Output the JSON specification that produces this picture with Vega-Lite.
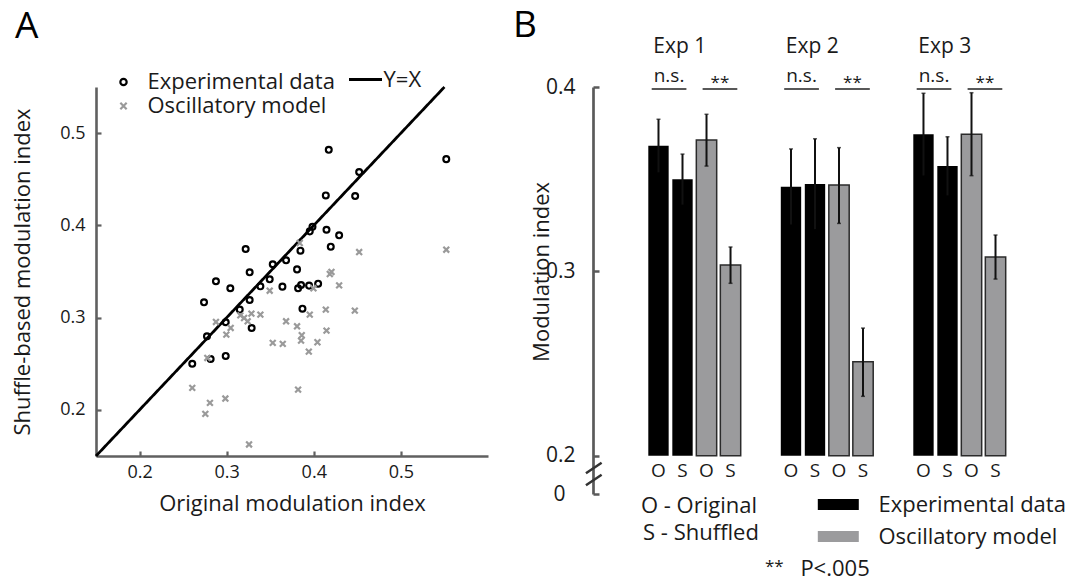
{
  "$schema": "https://vega.github.io/schema/vega-lite/v6.json",
  "background": "white",
  "padding": {"left": 11, "top": 6, "right": 0, "bottom": 0},
  "spacing": 25,
  "resolve": {"scale": {"fill": "independent", "shape": "independent", "stroke": "independent", "strokeDash": "independent"}},
  "config": {
    "font": "Open Sans",
    "view": {"stroke": null},
    "axis": {"grid": false, "labelFont": "Open Sans", "titleFont": "Open Sans", "titleFontWeight": "normal", "labelColor": "#1a1a1a", "titleColor": "#1a1a1a"},
    "legend": {"labelFont": "Open Sans", "labelColor": "#1a1a1a", "labelLimit": 0},
    "text": {"font": "Open Sans", "color": "#1a1a1a"}
  },
  "datasets": {
    "scatter": [
      {"series": "Experimental data", "original": 0.2605, "shuffled": 0.250},
      {"series": "Experimental data", "original": 0.274, "shuffled": 0.3166},
      {"series": "Experimental data", "original": 0.2774, "shuffled": 0.2798},
      {"series": "Experimental data", "original": 0.2816, "shuffled": 0.2552},
      {"series": "Experimental data", "original": 0.2877, "shuffled": 0.3394},
      {"series": "Experimental data", "original": 0.2989, "shuffled": 0.295},
      {"series": "Experimental data", "original": 0.2989, "shuffled": 0.2585},
      {"series": "Experimental data", "original": 0.3042, "shuffled": 0.3318},
      {"series": "Experimental data", "original": 0.315, "shuffled": 0.3087},
      {"series": "Experimental data", "original": 0.3218, "shuffled": 0.3744},
      {"series": "Experimental data", "original": 0.3264, "shuffled": 0.3491},
      {"series": "Experimental data", "original": 0.3264, "shuffled": 0.3191},
      {"series": "Experimental data", "original": 0.3287, "shuffled": 0.2888},
      {"series": "Experimental data", "original": 0.3387, "shuffled": 0.3339},
      {"series": "Experimental data", "original": 0.3494, "shuffled": 0.3415},
      {"series": "Experimental data", "original": 0.3529, "shuffled": 0.3578},
      {"series": "Experimental data", "original": 0.364, "shuffled": 0.3336},
      {"series": "Experimental data", "original": 0.3682, "shuffled": 0.3621},
      {"series": "Experimental data", "original": 0.3808, "shuffled": 0.3523},
      {"series": "Experimental data", "original": 0.382, "shuffled": 0.3318},
      {"series": "Experimental data", "original": 0.3847, "shuffled": 0.3726},
      {"series": "Experimental data", "original": 0.3854, "shuffled": 0.3354},
      {"series": "Experimental data", "original": 0.387, "shuffled": 0.3097},
      {"series": "Experimental data", "original": 0.3946, "shuffled": 0.3347},
      {"series": "Experimental data", "original": 0.3954, "shuffled": 0.3935},
      {"series": "Experimental data", "original": 0.3985, "shuffled": 0.3986},
      {"series": "Experimental data", "original": 0.405, "shuffled": 0.3368},
      {"series": "Experimental data", "original": 0.4146, "shuffled": 0.3953},
      {"series": "Experimental data", "original": 0.4172, "shuffled": 0.4819},
      {"series": "Experimental data", "original": 0.4138, "shuffled": 0.4325},
      {"series": "Experimental data", "original": 0.4195, "shuffled": 0.3769},
      {"series": "Experimental data", "original": 0.4291, "shuffled": 0.3892},
      {"series": "Experimental data", "original": 0.4475, "shuffled": 0.4318},
      {"series": "Experimental data", "original": 0.4521, "shuffled": 0.4578},
      {"series": "Experimental data", "original": 0.5521, "shuffled": 0.4718},
      {"series": "Oscillatory model", "original": 0.3839, "shuffled": 0.3809},
      {"series": "Oscillatory model", "original": 0.3494, "shuffled": 0.3292},
      {"series": "Oscillatory model", "original": 0.3996, "shuffled": 0.3318},
      {"series": "Oscillatory model", "original": 0.4184, "shuffled": 0.3473},
      {"series": "Oscillatory model", "original": 0.4203, "shuffled": 0.3495},
      {"series": "Oscillatory model", "original": 0.4291, "shuffled": 0.335},
      {"series": "Oscillatory model", "original": 0.4521, "shuffled": 0.3711},
      {"series": "Oscillatory model", "original": 0.5521, "shuffled": 0.3736},
      {"series": "Oscillatory model", "original": 0.4138, "shuffled": 0.3087},
      {"series": "Oscillatory model", "original": 0.4471, "shuffled": 0.3076},
      {"series": "Oscillatory model", "original": 0.3954, "shuffled": 0.3032},
      {"series": "Oscillatory model", "original": 0.4146, "shuffled": 0.2859},
      {"series": "Oscillatory model", "original": 0.4042, "shuffled": 0.2733},
      {"series": "Oscillatory model", "original": 0.3943, "shuffled": 0.2632},
      {"series": "Oscillatory model", "original": 0.3862, "shuffled": 0.2809},
      {"series": "Oscillatory model", "original": 0.3854, "shuffled": 0.2751},
      {"series": "Oscillatory model", "original": 0.3808, "shuffled": 0.2906},
      {"series": "Oscillatory model", "original": 0.3682, "shuffled": 0.296},
      {"series": "Oscillatory model", "original": 0.3644, "shuffled": 0.2715},
      {"series": "Oscillatory model", "original": 0.3529, "shuffled": 0.2726},
      {"series": "Oscillatory model", "original": 0.3387, "shuffled": 0.3032},
      {"series": "Oscillatory model", "original": 0.3284, "shuffled": 0.3043},
      {"series": "Oscillatory model", "original": 0.3157, "shuffled": 0.3025},
      {"series": "Oscillatory model", "original": 0.32, "shuffled": 0.2996},
      {"series": "Oscillatory model", "original": 0.3241, "shuffled": 0.296},
      {"series": "Oscillatory model", "original": 0.3046, "shuffled": 0.2888},
      {"series": "Oscillatory model", "original": 0.2996, "shuffled": 0.2816},
      {"series": "Oscillatory model", "original": 0.2877, "shuffled": 0.2953},
      {"series": "Oscillatory model", "original": 0.2778, "shuffled": 0.2563},
      {"series": "Oscillatory model", "original": 0.2605, "shuffled": 0.2238},
      {"series": "Oscillatory model", "original": 0.2808, "shuffled": 0.2076},
      {"series": "Oscillatory model", "original": 0.2985, "shuffled": 0.2123},
      {"series": "Oscillatory model", "original": 0.2755, "shuffled": 0.1957},
      {"series": "Oscillatory model", "original": 0.382, "shuffled": 0.222},
      {"series": "Oscillatory model", "original": 0.3257, "shuffled": 0.1625}
    ],
    "bars": [
      {"exp": "Exp 1", "series": "Experimental data", "cond": "O", "mean": 0.3681, "lo": 0.3537, "hi": 0.3825},
      {"exp": "Exp 1", "series": "Experimental data", "cond": "S", "mean": 0.3499, "lo": 0.3362, "hi": 0.3636},
      {"exp": "Exp 1", "series": "Oscillatory model", "cond": "O", "mean": 0.3712, "lo": 0.3571, "hi": 0.3852},
      {"exp": "Exp 1", "series": "Oscillatory model", "cond": "S", "mean": 0.3034, "lo": 0.2935, "hi": 0.3132},
      {"exp": "Exp 2", "series": "Experimental data", "cond": "O", "mean": 0.3459, "lo": 0.3254, "hi": 0.3664},
      {"exp": "Exp 2", "series": "Experimental data", "cond": "S", "mean": 0.3474, "lo": 0.3229, "hi": 0.3719},
      {"exp": "Exp 2", "series": "Oscillatory model", "cond": "O", "mean": 0.3468, "lo": 0.326, "hi": 0.3671},
      {"exp": "Exp 2", "series": "Oscillatory model", "cond": "S", "mean": 0.251, "lo": 0.2322, "hi": 0.2692},
      {"exp": "Exp 3", "series": "Experimental data", "cond": "O", "mean": 0.3743, "lo": 0.352, "hi": 0.3966},
      {"exp": "Exp 3", "series": "Experimental data", "cond": "S", "mean": 0.3571, "lo": 0.3412, "hi": 0.373},
      {"exp": "Exp 3", "series": "Oscillatory model", "cond": "O", "mean": 0.3743, "lo": 0.3519, "hi": 0.3969},
      {"exp": "Exp 3", "series": "Oscillatory model", "cond": "S", "mean": 0.3078, "lo": 0.2958, "hi": 0.3197}
    ],
    "sig": [
      {"exp": "Exp 1", "series": "Experimental data", "sig": "n.s."},
      {"exp": "Exp 1", "series": "Oscillatory model", "sig": "**"},
      {"exp": "Exp 2", "series": "Experimental data", "sig": "n.s."},
      {"exp": "Exp 2", "series": "Oscillatory model", "sig": "**"},
      {"exp": "Exp 3", "series": "Experimental data", "sig": "n.s."},
      {"exp": "Exp 3", "series": "Oscillatory model", "sig": "**"}
    ]
  },
  "hconcat": [
    {
      "width": 392,
      "height": 369,
      "layer": [
        {
          "data": {"values": [{}]},
          "mark": {"type": "rule", "color": "black", "strokeWidth": 2.8},
          "encoding": {
            "x": {"datum": 0.15, "type": "quantitative"},
            "y": {"datum": 0.15, "type": "quantitative"},
            "x2": {"datum": 0.55},
            "y2": {"datum": 0.55},
            "strokeDash": {
              "datum": "Y=X", "type": "nominal",
              "scale": {"range": [[1, 0]]},
              "legend": {"title": null, "orient": "none", "legendX": 251.5, "legendY": -25.5, "symbolType": "stroke", "symbolSize": 1089, "symbolStrokeColor": "black", "symbolStrokeWidth": 2.8, "labelOffset": 0, "labelFontSize": 22, "padding": 0}
            }
          }
        },
        {
          "data": {"name": "scatter"},
          "mark": {"type": "point", "filled": false, "size": 34, "strokeWidth": 2.2, "opacity": 1},
          "encoding": {
            "x": {
              "field": "original", "type": "quantitative",
              "scale": {"domain": [0.15, 0.6], "nice": false, "zero": false},
              "axis": {"title": "Original modulation index", "values": [0.2, 0.3, 0.4, 0.5], "format": ".1f", "domainColor": "#606060", "domainWidth": 2.6, "tickColor": "#606060", "tickWidth": 2.2, "tickSize": -5, "labelFontSize": 18, "labelPadding": 12, "titleFontSize": 22, "titlePadding": 12}
            },
            "y": {
              "field": "shuffled", "type": "quantitative",
              "scale": {"domain": [0.15, 0.55], "nice": false, "zero": false},
              "axis": {"title": "Shuffle-based modulation index", "values": [0.2, 0.3, 0.4, 0.5], "format": ".1f", "domainColor": "#606060", "domainWidth": 2.6, "tickColor": "#606060", "tickWidth": 2.2, "tickSize": -5, "labelFontSize": 18, "labelPadding": 16, "titleFontSize": 22, "titlePadding": 25}
            },
            "shape": {
              "field": "series", "type": "nominal",
              "scale": {"domain": ["Experimental data", "Oscillatory model"], "range": ["circle", "M-1,-1L1,1M-1,1L1,-1"]},
              "legend": {"title": null, "orient": "none", "legendX": 16.5, "legendY": -16, "labelFontSize": 22, "labelOffset": 13, "rowPadding": 2, "symbolStrokeWidth": 2.2, "symbolSize": 40, "padding": 0}
            },
            "stroke": {
              "field": "series", "type": "nominal",
              "scale": {"domain": ["Experimental data", "Oscillatory model"], "range": ["#000000", "#9a9a9a"]},
              "legend": {"title": null, "orient": "none", "legendX": 16.5, "legendY": -16, "labelFontSize": 22, "labelOffset": 13, "rowPadding": 2, "symbolStrokeWidth": 2.2, "symbolSize": 40, "padding": 0}
            }
          }
        },
        {
          "data": {"values": [{}]},
          "mark": {"type": "text", "text": "A", "fontSize": 37, "align": "left", "baseline": "alphabetic", "color": "#000"},
          "encoding": {
            "x": {"datum": 0.0571, "type": "quantitative"},
            "y": {"datum": 0.603, "type": "quantitative"}
          }
        }
      ]
    },
    {
      "width": 468,
      "height": 407,
      "resolve": {"scale": {"xOffset": "independent"}},
      "layer": [
        {
          "data": {"name": "bars"},
          "transform": [{"filter": "datum.series === 'Experimental data'"}],
          "mark": {"type": "bar"},
          "encoding": {
            "x": {"field": "exp", "type": "nominal", "scale": {"domain": ["Exp 1", "Exp 2", "Exp 3"], "paddingInner": 0.3026, "paddingOuter": 0.4174}, "axis": null},
            "xOffset": {"field": "cond", "type": "nominal", "scale": {"type": "band", "domain": ["O", "S"], "paddingInner": 0.1518, "paddingOuter": 1.1384, "align": 0}},
            "y": {
              "field": "mean", "type": "quantitative",
              "scale": {"domain": [0.1792, 0.4], "nice": false, "zero": false},
              "axis": {"title": "Modulation index", "titleY": 184.4, "values": [0.1792, 0.2, 0.3, 0.4], "labelExpr": "datum.value < 0.19 ? '0' : format(datum.value, '.1f')", "domainColor": "#5a5a5a", "domainWidth": 2.7, "tickColor": "#5a5a5a", "tickWidth": 2.5, "tickSize": -6, "labelFontSize": 21, "labelPadding": {"condition": {"test": "datum.value < 0.19", "value": 34}, "value": 24}, "titleFontSize": 22, "titlePadding": -8}
            },
            "y2": {"datum": 0.2},
            "fill": {
              "field": "series", "type": "nominal",
              "scale": {"domain": ["Experimental data", "Oscillatory model"], "range": ["#000000", "#9b9b9d"]},
              "legend": {"title": null, "orient": "none", "legendX": 224.8, "legendY": 397, "symbolType": "M-1,-0.27L1,-0.27L1,0.27L-1,0.27Z", "symbolSize": 1681, "symbolStrokeWidth": 0, "labelFontSize": 22, "labelOffset": 19.7, "rowPadding": -21, "padding": 0}
            }
          }
        },
        {
          "data": {"name": "bars"},
          "transform": [{"filter": "datum.series === 'Oscillatory model'"}],
          "mark": {"type": "bar", "stroke": "#2b2b2b", "strokeWidth": 1.5},
          "encoding": {
            "x": {"field": "exp", "type": "nominal", "axis": null},
            "xOffset": {"field": "cond", "type": "nominal", "scale": {"type": "band", "domain": ["O", "S"], "paddingInner": 0.1518, "paddingOuter": 1.1384, "align": 1}},
            "y": {"field": "mean", "type": "quantitative"},
            "y2": {"datum": 0.2},
            "fill": {
              "field": "series", "type": "nominal",
              "legend": {"title": null, "orient": "none", "legendX": 224.8, "legendY": 397, "symbolType": "M-1,-0.27L1,-0.27L1,0.27L-1,0.27Z", "symbolSize": 1681, "symbolStrokeWidth": 0, "labelFontSize": 22, "labelOffset": 19.7, "rowPadding": -21, "padding": 0}
            }
          }
        },
        {
          "data": {"name": "bars"},
          "transform": [{"filter": "datum.series === 'Experimental data'"}],
          "mark": {"type": "rule", "color": "#111", "strokeWidth": 2},
          "encoding": {
            "x": {"field": "exp", "type": "nominal", "axis": null},
            "xOffset": {"field": "cond", "type": "nominal", "scale": {"type": "band", "domain": ["O", "S"], "paddingInner": 0.1518, "paddingOuter": 1.1384, "align": 0}},
            "y": {"field": "lo", "type": "quantitative"},
            "y2": {"field": "hi"}
          }
        },
        {
          "data": {"name": "bars"},
          "transform": [{"filter": "datum.series === 'Oscillatory model'"}],
          "mark": {"type": "rule", "color": "#111", "strokeWidth": 2},
          "encoding": {
            "x": {"field": "exp", "type": "nominal", "axis": null},
            "xOffset": {"field": "cond", "type": "nominal", "scale": {"type": "band", "domain": ["O", "S"], "paddingInner": 0.1518, "paddingOuter": 1.1384, "align": 1}},
            "y": {"field": "lo", "type": "quantitative"},
            "y2": {"field": "hi"}
          }
        },
        {
          "data": {"name": "bars"},
          "transform": [{"filter": "datum.series === 'Experimental data'"}],
          "mark": {"type": "tick", "orient": "horizontal", "size": 4, "thickness": 1.5, "color": "#111"},
          "encoding": {
            "x": {"field": "exp", "type": "nominal", "axis": null},
            "xOffset": {"field": "cond", "type": "nominal", "scale": {"type": "band", "domain": ["O", "S"], "paddingInner": 0.1518, "paddingOuter": 1.1384, "align": 0}},
            "y": {"field": "hi", "type": "quantitative"}
          }
        },
        {
          "data": {"name": "bars"},
          "transform": [{"filter": "datum.series === 'Oscillatory model'"}],
          "mark": {"type": "tick", "orient": "horizontal", "size": 4, "thickness": 1.5, "color": "#111"},
          "encoding": {
            "x": {"field": "exp", "type": "nominal", "axis": null},
            "xOffset": {"field": "cond", "type": "nominal", "scale": {"type": "band", "domain": ["O", "S"], "paddingInner": 0.1518, "paddingOuter": 1.1384, "align": 1}},
            "y": {"field": "hi", "type": "quantitative"}
          }
        },
        {
          "data": {"name": "bars"},
          "transform": [{"filter": "datum.series === 'Oscillatory model'"}],
          "mark": {"type": "tick", "orient": "horizontal", "size": 4, "thickness": 1.5, "color": "#111"},
          "encoding": {
            "x": {"field": "exp", "type": "nominal", "axis": null},
            "xOffset": {"field": "cond", "type": "nominal", "scale": {"type": "band", "domain": ["O", "S"], "paddingInner": 0.1518, "paddingOuter": 1.1384, "align": 1}},
            "y": {"field": "lo", "type": "quantitative"}
          }
        },
        {
          "data": {"name": "bars"},
          "transform": [{"filter": "datum.series === 'Experimental data'"}],
          "mark": {"type": "text", "fontSize": 19, "dy": 21, "baseline": "alphabetic", "align": "center"},
          "encoding": {
            "x": {"field": "exp", "type": "nominal", "axis": null},
            "xOffset": {"field": "cond", "type": "nominal", "scale": {"type": "band", "domain": ["O", "S"], "paddingInner": 0.1518, "paddingOuter": 1.1384, "align": 0}},
            "y": {"datum": 0.2, "type": "quantitative"},
            "text": {"field": "cond"}
          }
        },
        {
          "data": {"name": "bars"},
          "transform": [{"filter": "datum.series === 'Oscillatory model'"}],
          "mark": {"type": "text", "fontSize": 19, "dy": 21, "baseline": "alphabetic", "align": "center"},
          "encoding": {
            "x": {"field": "exp", "type": "nominal", "axis": null},
            "xOffset": {"field": "cond", "type": "nominal", "scale": {"type": "band", "domain": ["O", "S"], "paddingInner": 0.1518, "paddingOuter": 1.1384, "align": 1}},
            "y": {"datum": 0.2, "type": "quantitative"},
            "text": {"field": "cond"}
          }
        },
        {
          "data": {"name": "sig"},
          "mark": {"type": "tick", "orient": "horizontal", "size": 34.7, "thickness": 2, "color": "#111"},
          "encoding": {
            "x": {"field": "exp", "type": "nominal", "axis": null},
            "xOffset": {"field": "series", "type": "nominal", "scale": {"type": "band", "domain": ["Experimental data", "Oscillatory model"], "paddingInner": 0.185, "paddingOuter": 0}},
            "y": {"datum": 0.3989, "type": "quantitative"}
          }
        },
        {
          "data": {"name": "sig"},
          "transform": [{"filter": "datum.sig === 'n.s.'"}],
          "mark": {"type": "text", "fontSize": 19, "baseline": "alphabetic", "align": "center"},
          "encoding": {
            "x": {"field": "exp", "type": "nominal", "axis": null},
            "xOffset": {"field": "series", "type": "nominal", "scale": {"type": "band", "domain": ["Experimental data", "Oscillatory model"], "paddingInner": 0.185, "paddingOuter": 0}},
            "y": {"datum": 0.4029, "type": "quantitative"},
            "text": {"field": "sig"}
          }
        },
        {
          "data": {"name": "sig"},
          "transform": [{"filter": "datum.sig === '**'"}],
          "mark": {"type": "text", "fontSize": 17, "baseline": "alphabetic", "align": "center"},
          "encoding": {
            "x": {"field": "exp", "type": "nominal", "axis": null},
            "xOffset": {"field": "series", "type": "nominal", "scale": {"type": "band", "domain": ["Experimental data", "Oscillatory model"], "paddingInner": 0.185, "paddingOuter": 0}},
            "y": {"datum": 0.3995, "type": "quantitative"},
            "text": {"field": "sig"}
          }
        },
        {
          "data": {"name": "bars"},
          "transform": [{"filter": "datum.series === 'Experimental data' && datum.cond === 'O'"}],
          "mark": {"type": "text", "fontSize": 21, "align": "left", "baseline": "alphabetic", "dx": 5},
          "encoding": {
            "x": {"field": "exp", "type": "nominal", "bandPosition": 0, "axis": null},
            "y": {"datum": 0.41829, "type": "quantitative"},
            "text": {"field": "exp"}
          }
        },
        {
          "data": {"values": [{}]},
          "mark": {"type": "point", "shape": "M-0.98,-0.09L0.98,-1.41M-0.98,1.41L0.98,0.09", "size": 256, "filled": false, "stroke": "#333", "strokeWidth": 2.5, "opacity": 1},
          "encoding": {
            "x": {"datum": "Exp 1", "type": "nominal", "bandPosition": -0.59, "axis": null},
            "y": {"datum": 0.19007, "type": "quantitative"}
          }
        },
        {
          "data": {"values": [{}]},
          "mark": {"type": "text", "text": "B", "fontSize": 37, "align": "left", "baseline": "alphabetic", "color": "#000"},
          "encoding": {
            "x": {"datum": "Exp 1", "type": "nominal", "bandPosition": -1.464, "axis": null},
            "y": {"datum": 0.4273, "type": "quantitative"}
          }
        },
        {
          "data": {"values": [{}]},
          "mark": {"type": "text", "text": "O - Original", "fontSize": 22, "align": "center", "baseline": "alphabetic"},
          "encoding": {
            "x": {"datum": "Exp 1", "type": "nominal", "bandPosition": 0.549, "axis": null},
            "y": {"datum": 0.16875, "type": "quantitative"}
          }
        },
        {
          "data": {"values": [{}]},
          "mark": {"type": "text", "text": "S - Shuffled", "fontSize": 22, "align": "center", "baseline": "alphabetic"},
          "encoding": {
            "x": {"datum": "Exp 1", "type": "nominal", "bandPosition": 0.57, "axis": null},
            "y": {"datum": 0.15426, "type": "quantitative"}
          }
        },
        {
          "data": {"values": [{}]},
          "mark": {"type": "text", "text": "**", "fontSize": 17, "align": "left", "baseline": "alphabetic"},
          "encoding": {
            "x": {"datum": "Exp 2", "type": "nominal", "bandPosition": -0.171, "axis": null},
            "y": {"datum": 0.1367, "type": "quantitative"}
          }
        },
        {
          "data": {"values": [{}]},
          "mark": {"type": "text", "text": "P<.005", "fontSize": 22, "align": "left", "baseline": "alphabetic"},
          "encoding": {
            "x": {"datum": "Exp 2", "type": "nominal", "bandPosition": 0.212, "axis": null},
            "y": {"datum": 0.1346, "type": "quantitative"}
          }
        }
      ]
    }
  ]
}
